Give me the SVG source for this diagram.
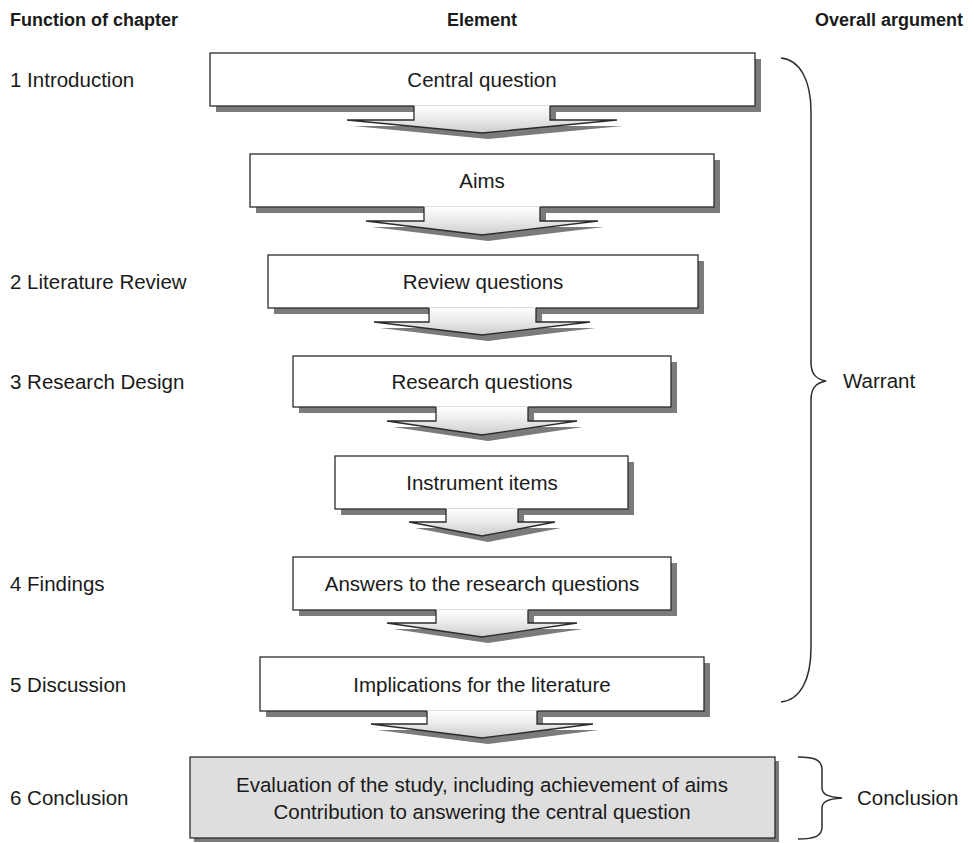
<svg xmlns="http://www.w3.org/2000/svg" width="974" height="843" viewBox="0 0 974 843">
<defs>
<linearGradient id="ag" x1="0" y1="0" x2="0" y2="1">
<stop offset="0" stop-color="#ffffff"/>
<stop offset="0.45" stop-color="#ececec"/>
<stop offset="1" stop-color="#cdcdcd"/>
</linearGradient>
<style>
.hd{font-family:"Liberation Sans",Arial,Helvetica,sans-serif;font-size:18px;font-weight:bold;fill:#1a1a1a}
.tx{font-family:"Liberation Sans",Arial,Helvetica,sans-serif;font-size:20.5px;fill:#1a1a1a}
.c{text-anchor:middle}
.sh{fill:#7b7b7b}
.bx{fill:#ffffff;stroke:#2b2b2b;stroke-width:1.3}
.bxg{fill:#dedede;stroke:#2b2b2b;stroke-width:1.3}
.af{fill:url(#ag)}
.ao{fill:none;stroke:#2b2b2b;stroke-width:1.3;stroke-linejoin:miter}
.br{fill:none;stroke:#2b2b2b;stroke-width:1.5}
</style>
</defs>
<rect width="974" height="843" fill="#ffffff"/>

<g id="headers">
<text class="hd" x="10" y="26">Function of chapter</text>
<text class="hd c" x="482" y="26">Element</text>
<text class="hd" x="815" y="26">Overall argument</text>
</g>

<g id="chapter-labels">
<text class="tx" x="10" y="87">1 Introduction</text>
<text class="tx" x="10" y="289">2 Literature Review</text>
<text class="tx" x="10" y="389">3 Research Design</text>
<text class="tx" x="10" y="591">4 Findings</text>
<text class="tx" x="10" y="692">5 Discussion</text>
<text class="tx" x="10" y="805">6 Conclusion</text>
</g>

<g id="node-central-question">
<rect class="sh" x="216" y="59" width="545" height="53"/>
<rect class="bx" x="210" y="53" width="545" height="53"/>
<text class="tx c" x="482" y="87">Central question</text>
</g>
<g id="node-aims">
<rect class="sh" x="256" y="160" width="464" height="53"/>
<rect class="bx" x="250" y="154" width="464" height="53"/>
<text class="tx c" x="482" y="188">Aims</text>
</g>
<g id="node-review-questions">
<rect class="sh" x="274" y="261" width="430" height="53"/>
<rect class="bx" x="268" y="255" width="430" height="53"/>
<text class="tx c" x="483" y="289">Review questions</text>
</g>
<g id="node-research-questions">
<rect class="sh" x="299" y="362" width="378" height="51"/>
<rect class="bx" x="293" y="356" width="378" height="51"/>
<text class="tx c" x="482" y="389">Research questions</text>
</g>
<g id="node-instrument-items">
<rect class="sh" x="341" y="462" width="293" height="53"/>
<rect class="bx" x="335" y="456" width="293" height="53"/>
<text class="tx c" x="482" y="490">Instrument items</text>
</g>
<g id="node-answers">
<rect class="sh" x="299" y="563" width="378" height="53"/>
<rect class="bx" x="293" y="557" width="378" height="53"/>
<text class="tx c" x="482" y="591">Answers to the research questions</text>
</g>
<g id="node-implications">
<rect class="sh" x="266" y="663" width="444" height="54"/>
<rect class="bx" x="260" y="657" width="444" height="54"/>
<text class="tx c" x="482" y="692">Implications for the literature</text>
</g>
<g id="node-conclusion">
<rect class="sh" x="194" y="761" width="585" height="81"/>
<rect class="bxg" x="190" y="757" width="585" height="81"/>
<text class="tx c" x="482" y="792">Evaluation of the study, including achievement of aims</text>
<text class="tx c" x="482" y="819">Contribution to answering the central question</text>
</g>

<g id="connectors">
<path class="sh" transform="translate(6,6)" d="M414 106 H550 V120 H617 L482 133 L347 120 H414 Z"/>
<path class="af" d="M414 105.2 H550 V120 H617 L482 133 L347 120 H414 Z"/>
<path class="ao" d="M550 106 V120 H617 L482 133 L347 120 H414 V106"/>
<path class="sh" transform="translate(6,6)" d="M424 207 H540 V221 H598 L482 235 L366 221 H424 Z"/>
<path class="af" d="M424 206.2 H540 V221 H598 L482 235 L366 221 H424 Z"/>
<path class="ao" d="M540 207 V221 H598 L482 235 L366 221 H424 V207"/>
<path class="sh" transform="translate(6,6)" d="M429 308 H536 V322 H590 L482 335 L374 322 H429 Z"/>
<path class="af" d="M429 307.2 H536 V322 H590 L482 335 L374 322 H429 Z"/>
<path class="ao" d="M536 308 V322 H590 L482 335 L374 322 H429 V308"/>
<path class="sh" transform="translate(6,6)" d="M436 407 H528 V421 H577 L482 435 L387 421 H436 Z"/>
<path class="af" d="M436 406.2 H528 V421 H577 L482 435 L387 421 H436 Z"/>
<path class="ao" d="M528 407 V421 H577 L482 435 L387 421 H436 V407"/>
<path class="sh" transform="translate(6,6)" d="M446 509 H518 V522 H555 L482 536 L409 522 H446 Z"/>
<path class="af" d="M446 508.2 H518 V522 H555 L482 536 L409 522 H446 Z"/>
<path class="ao" d="M518 509 V522 H555 L482 536 L409 522 H446 V509"/>
<path class="sh" transform="translate(6,6)" d="M436 610 H528 V623 H577 L482 637 L387 623 H436 Z"/>
<path class="af" d="M436 609.2 H528 V623 H577 L482 637 L387 623 H436 Z"/>
<path class="ao" d="M528 610 V623 H577 L482 637 L387 623 H436 V610"/>
<path class="sh" transform="translate(6,6)" d="M427 711 H537 V724 H593 L482 738 L371 724 H427 Z"/>
<path class="af" d="M427 710.2 H537 V724 H593 L482 738 L371 724 H427 Z"/>
<path class="ao" d="M537 711 V724 H593 L482 738 L371 724 H427 V711"/>
</g>

<g id="brace-warrant">
<path class="br" d="M781 58 C800 60 811 80 811 112 L811 362 C811 373 815 379 826 381 C815 383 811 389 811 400 L811 648 C811 680 800 700 781 702"/>
<text class="tx" x="843" y="388">Warrant</text>
</g>
<g id="brace-conclusion">
<path class="br" d="M798 757 C815 757 822 760 822 770 L822 788 C822 794 827 797 842 798 C827 799 822 802 822 808 L822 827 C822 836 815 839 798 839"/>
<text class="tx" x="857" y="805">Conclusion</text>
</g>
</svg>
